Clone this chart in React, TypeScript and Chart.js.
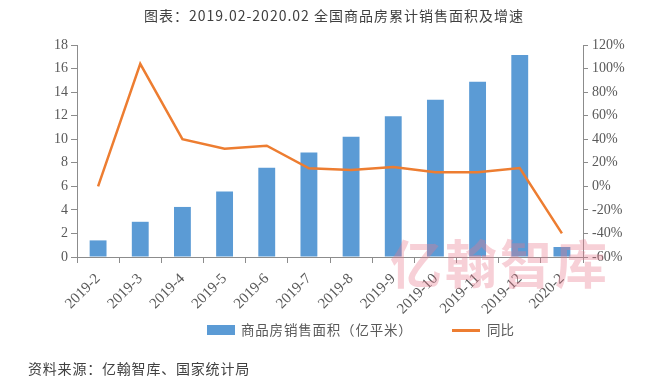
import React, { useEffect, useRef } from "react";
import { Chart, registerables } from "chart.js";

Chart.register(...registerables);

const categories = [
  "2019-2", "2019-3", "2019-4", "2019-5", "2019-6", "2019-7",
  "2019-8", "2019-9", "2019-10", "2019-11", "2019-12", "2020-2",
];
const salesArea = [1.41, 2.99, 4.25, 5.56, 7.58, 8.88, 10.2, 11.94, 13.35, 14.89, 17.16, 0.85];
const yoyGrowth = [0, 104, 40, 32, 34.5, 15.3, 13.9, 16.4, 12, 12, 15.6, -39.9];
const leftTicks = { min: 0, max: 18, step: 2 };
const rightTicks = { min: -60, max: 120, step: 20 };

const barLabel = "商品房销售面积（亿平米）";
const lineLabel = "同比";
const titleText = "图表：2019.02-2020.02 全国商品房累计销售面积及增速";
const sourceText = "资料来源：亿翰智库、国家统计局";

const BLUE = "#5B9BD5";
const ORANGE = "#ED7D31";
const AXIS = "#8c8c8c";
const TEXT = "#595959";
const CJK = '"Noto Sans CJK SC", "Noto Sans", sans-serif';
const SERIF = '"Liberation Serif", "DejaVu Serif", serif';

export default function App() {
  const ref = useRef<HTMLCanvasElement | null>(null);

  useEffect(() => {
    if (!ref.current) return;
    const tickFont = { family: SERIF, size: 14 };
    const chart = new Chart(ref.current, {
      type: "bar",
      data: {
        labels: categories,
        datasets: [
          {
            type: "line",
            label: lineLabel,
            data: yoyGrowth,
            borderColor: ORANGE,
            backgroundColor: ORANGE,
            borderWidth: 2.5,
            pointRadius: 0,
            tension: 0,
            yAxisID: "y1",
            order: 1,
          } as any,
          {
            type: "bar",
            label: barLabel,
            data: salesArea,
            backgroundColor: BLUE,
            barPercentage: 0.4,
            categoryPercentage: 1,
            yAxisID: "y",
            order: 2,
          } as any,
        ],
      },
      options: {
        responsive: false,
        animation: false,
        layout: { padding: { top: 45, left: 0, right: 0, bottom: 0 } },
        plugins: {
          legend: { display: false },
          title: { display: false },
          tooltip: { enabled: false },
        },
        scales: {
          x: {
            offset: true,
            grid: {
              display: true,
              drawOnChartArea: false,
              tickLength: 6,
              color: AXIS,
              offset: true,
            },
            border: { color: AXIS, width: 1 },
            ticks: {
              minRotation: 45,
              maxRotation: 45,
              font: { family: SERIF, size: 15 },
              color: TEXT,
              padding: 7,
              autoSkip: false,
            },
            afterFit: (s: any) => {
              s.height = 124;
            },
          },
          y: {
            position: "left",
            min: leftTicks.min,
            max: leftTicks.max,
            grid: { drawOnChartArea: false, tickLength: 6, color: AXIS },
            border: { color: AXIS, width: 1 },
            ticks: { stepSize: leftTicks.step, font: tickFont, color: TEXT, padding: 3 },
            afterFit: (s: any) => {
              s.width = 77;
            },
          },
          y1: {
            position: "right",
            min: rightTicks.min,
            max: rightTicks.max,
            grid: { drawOnChartArea: false, tickLength: 5, color: AXIS },
            border: { color: AXIS, width: 1 },
            ticks: {
              stepSize: rightTicks.step,
              font: tickFont,
              color: TEXT,
              padding: 4,
              callback: (v: any) => v + "%",
            },
            afterFit: (s: any) => {
              s.width = 85;
            },
          },
        },
      },
    });
    return () => chart.destroy();
  }, []);

  return (
    <div
      style={{
        position: "fixed",
        left: 0,
        top: 0,
        width: 668,
        height: 381,
        background: "#fff",
        overflow: "hidden",
      }}
    >
      <canvas
        ref={ref}
        width={668}
        height={381}
        style={{ position: "absolute", left: 0, top: 0, width: 668, height: 381 }}
      />
      <div
        style={{
          position: "absolute",
          left: 0,
          top: 5,
          width: 668,
          textAlign: "center",
          fontFamily: CJK,
          fontSize: 14,
          letterSpacing: 1,
          color: "#404040",
          lineHeight: "20px",
        }}
      >
        {titleText}
      </div>
      <div
        style={{
          position: "absolute",
          left: 390,
          top: 232,
          fontFamily: CJK,
          fontSize: 52,
          fontWeight: 700,
          letterSpacing: 3,
          color: "rgba(232, 120, 140, 0.35)",
          lineHeight: "60px",
          pointerEvents: "none",
        }}
      >
        亿翰智库
      </div>
      <div
        style={{
          position: "absolute",
          left: 207,
          top: 325,
          width: 28,
          height: 10,
          background: BLUE,
        }}
      />
      <div
        style={{
          position: "absolute",
          left: 241,
          top: 319,
          fontFamily: CJK,
          fontSize: 13.5,
          letterSpacing: 0.8,
          color: TEXT,
          lineHeight: "20px",
          whiteSpace: "nowrap",
        }}
      >
        {barLabel}
      </div>
      <div
        style={{
          position: "absolute",
          left: 452,
          top: 329,
          width: 28,
          height: 2.5,
          background: ORANGE,
        }}
      />
      <div
        style={{
          position: "absolute",
          left: 487,
          top: 319,
          fontFamily: CJK,
          fontSize: 13.5,
          color: TEXT,
          lineHeight: "20px",
          whiteSpace: "nowrap",
        }}
      >
        {lineLabel}
      </div>
      <div
        style={{
          position: "absolute",
          left: 28,
          top: 358,
          fontFamily: CJK,
          fontSize: 14,
          letterSpacing: 0.8,
          color: "#404040",
          lineHeight: "20px",
          whiteSpace: "nowrap",
        }}
      >
        {sourceText}
      </div>
    </div>
  );
}
